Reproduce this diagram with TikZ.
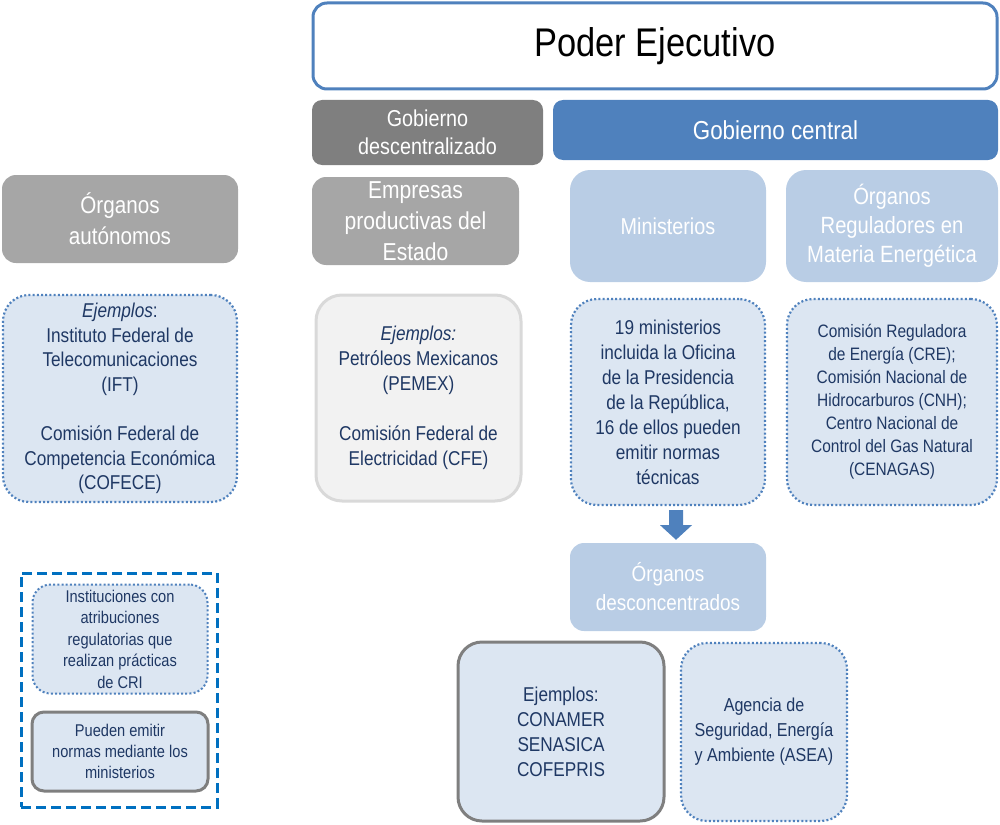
\documentclass[tikz,border=0pt]{standalone}
\usepackage{fontspec}
\setmainfont{Liberation Sans}[FakeStretch=0.86]
\usetikzlibrary{calc}
\definecolor{cblue}{HTML}{4F81BD}
\definecolor{cdark}{HTML}{7F7F7F}
\definecolor{cmid}{HTML}{A6A6A6}
\definecolor{clight}{HTML}{B9CDE5}
\definecolor{cpale}{HTML}{DCE6F2}
\definecolor{cnavy}{HTML}{1F3864}
\definecolor{cdash}{HTML}{0070C0}
\definecolor{cgrayline}{HTML}{D9D9D9}
\definecolor{cgrayfill}{HTML}{F2F2F2}
\tikzset{
  box/.style={rectangle, rounded corners=14pt, align=center, inner sep=2pt},
  head/.style={box, text=white},
  dotbox/.style={box, fill=cpale, draw=cblue, line width=2.2pt, dash pattern=on 2pt off 2.2pt, rounded corners=26pt, text=cnavy},
  graybox/.style={box, fill=cpale, draw=cdark, line width=3pt, rounded corners=24pt, text=cnavy}
}
\begin{document}
\begin{tikzpicture}[x=1pt,y=-1pt]
\useasboundingbox (0,0) rectangle (1000,824);
% top
\node[box, fill=white, draw=cblue, line width=3pt, minimum width=684pt, minimum height=86pt, font=\fontsize{40}{46}\selectfont] (pe) at (655,46) {Poder Ejecutivo};
\node[head, fill=cdark, minimum width=231pt, minimum height=65pt, rounded corners=10pt, font=\fontsize{23}{28}\selectfont] (gd) at (427.5,132.5) {Gobierno\\descentralizado};
\node[head, fill=cblue, minimum width=445pt, minimum height=60pt, rounded corners=10pt, font=\fontsize{26}{30}\selectfont] (gc) at (775.5,130) {Gobierno central};
% second row headers
\node[head, fill=cmid, minimum width=236pt, minimum height=88pt, font=\fontsize{24}{31}\selectfont] (oa) at (120,219) {Órganos\\autónomos};
\node[head, fill=cmid, minimum width=207pt, minimum height=88pt, font=\fontsize{24.5}{31}\selectfont] (ep) at (415.5,221) {Empresas\\productivas del\\Estado};
\node[head, fill=clight, minimum width=196pt, minimum height=112pt, rounded corners=20pt, font=\fontsize{23}{29}\selectfont] (mi) at (668,226) {Ministerios};
\node[head, fill=clight, minimum width=212pt, minimum height=112pt, rounded corners=20pt, font=\fontsize{23.5}{29}\selectfont] (or) at (892,226) {Órganos\\Reguladores en\\Materia Energética};
% detail boxes
\node[dotbox, minimum width=234pt, minimum height=207pt, font=\fontsize{20}{24.5}\selectfont] (ifx) at (120,398.5) {\textit{Ejemplos}:\\Instituto Federal de\\Telecomunicaciones\\(IFT)\\[25pt]Comisión Federal de\\Competencia Económica\\(COFECE)};
\node[box, fill=cgrayfill, draw=cgrayline, line width=3pt, rounded corners=26pt, text=cnavy, minimum width=205pt, minimum height=206pt, font=\fontsize{20}{25}\selectfont] (pm) at (418.5,398) {\textit{Ejemplos:}\\Petróleos Mexicanos\\(PEMEX)\\[25pt]Comisión Federal de\\Electricidad (CFE)};
\node[dotbox, minimum width=194pt, minimum height=206pt, font=\fontsize{20}{25}\selectfont] (nm) at (668,402) {19 ministerios\\incluida la Oficina\\de la Presidencia\\de la República,\\16 de ellos pueden\\emitir normas\\técnicas};
\node[dotbox, minimum width=210pt, minimum height=206pt, font=\fontsize{18}{23}\selectfont] (cr) at (892,402) {Comisión Reguladora\\de Energía (CRE);\\Comisión Nacional de\\Hidrocarburos (CNH);\\Centro Nacional de\\Control del Gas Natural\\(CENAGAS)};
\node[head, fill=clight, minimum width=196pt, minimum height=88pt, font=\fontsize{22}{29}\selectfont] (od) at (668,587) {Órganos\\desconcentrados};
% arrow
\fill[cblue] ($(nm.south)+(1,4)$) -- ($(nm.south)+(15,4)$) -- ($(nm.south)+(15,19)$) -- ($(nm.south)+(24,19)$) -- ($(od.north)+(8,-3)$) -- ($(nm.south)+(-8,19)$) -- ($(nm.south)+(1,19)$) -- cycle;
\node[graybox, minimum width=206pt, minimum height=179pt, font=\fontsize{20}{25}\selectfont] (cn) at (561,731.5) {Ejemplos:\\CONAMER\\SENASICA\\COFEPRIS};
\node[dotbox, minimum width=166pt, minimum height=178pt, font=\fontsize{18.7}{25}\selectfont] (as) at (764,732) {Agencia de\\Seguridad, Energía\\y Ambiente (ASEA)};
% legend
\node[draw=cdash, line width=3pt, dash pattern=on 10pt off 5pt, minimum width=196pt, minimum height=234pt] (lg) at (119,690) {};
\node[dotbox, rounded corners=18pt, line width=2pt, minimum width=175pt, minimum height=109pt, font=\fontsize{17}{21.5}\selectfont] (li) at (120,639) {Instituciones con\\atribuciones\\regulatorias que\\realizan prácticas\\de CRI};
\node[graybox, rounded corners=12pt, minimum width=176pt, minimum height=79pt, font=\fontsize{17}{21}\selectfont] (lp) at (120,751.5) {Pueden emitir\\normas mediante los\\ministerios};
\end{tikzpicture}
\end{document}
